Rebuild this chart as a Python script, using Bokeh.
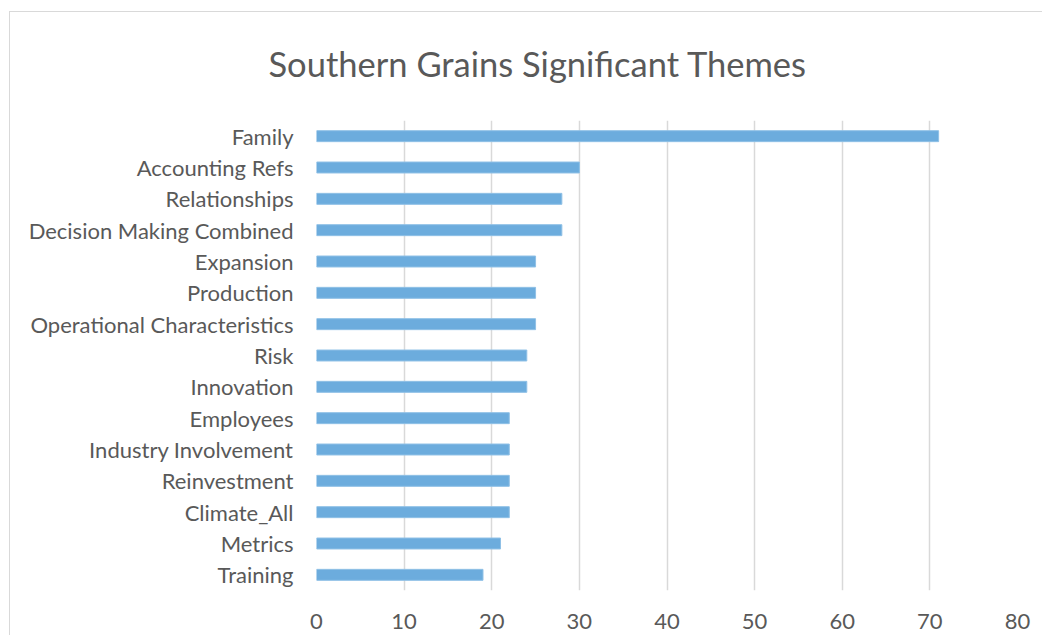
from bokeh.plotting import figure
from bokeh.models import FactorRange, Range1d, FixedTicker, Title
from bokeh.embed import file_html
from bokeh.resources import INLINE

themes = ["Family", "Accounting Refs", "Relationships", "Decision Making Combined",
          "Expansion", "Production", "Operational Characteristics", "Risk",
          "Innovation", "Employees", "Industry Involvement", "Reinvestment",
          "Climate_All", "Metrics", "Training"]
counts = [71, 30, 28, 28, 25, 25, 25, 24, 24, 22, 22, 22, 22, 21, 19]
x_ticks = [0, 10, 20, 30, 40, 50, 60, 70, 80]

FONT = "Lato"
TXT = "#595959"

p = figure(width=1042, height=635, output_backend="svg", toolbar_location=None,
           y_range=FactorRange(*reversed(themes)), x_range=Range1d(0, 80),
           min_border_left=316, min_border_right=25, min_border_top=120,
           min_border_bottom=45)
p.border_fill_color = None
p.background_fill_color = "white"
p.styles = {
    "background-color": "white",
    "background-image": "linear-gradient(#d9d9d9,#d9d9d9), linear-gradient(#d9d9d9,#d9d9d9)",
    "background-position": "9px 11px, 9px 11px",
    "background-size": "1px 100%, 100% 1px",
    "background-repeat": "no-repeat, no-repeat",
}

p.hbar(y=themes, right=counts, height=0.35, fill_color="#6CACDD",
       line_color="#8FC0E6", line_width=1)

t = Title(text="Southern Grains Significant Themes", align="left", offset=-48,
          text_font=FONT, text_font_size="34.5px", text_font_style="normal",
          text_color=TXT, standoff=74)
p.add_layout(t, "above")
p.title.visible = False

p.outline_line_color = None
p.ygrid.grid_line_color = None
p.xgrid.grid_line_color = "#d9d9d9"
p.xgrid.grid_line_width = 1.5
p.xaxis.ticker = FixedTicker(ticks=x_ticks)

for ax in (p.xaxis[0], p.yaxis[0]):
    ax.axis_line_color = None
    ax.major_tick_line_color = None
    ax.minor_tick_line_color = None
    ax.major_tick_out = 0
    ax.major_tick_in = 0
    ax.major_label_text_font = FONT
    ax.major_label_text_font_size = "22px"
    ax.major_label_text_color = TXT

p.yaxis.major_label_standoff = 23
p.xaxis.major_label_standoff = 23

open("out.html", "w").write(file_html(p, INLINE))
